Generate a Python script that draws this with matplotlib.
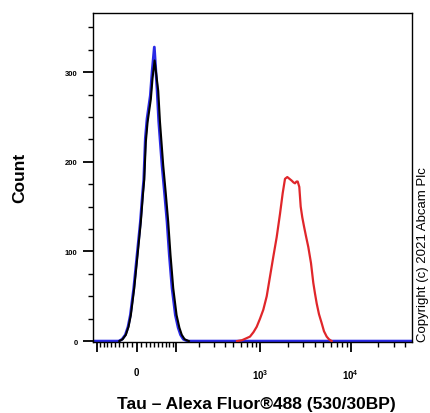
import numpy as np
import matplotlib
matplotlib.use('Agg')
import matplotlib.pyplot as plt
from matplotlib.ticker import FixedLocator, FixedFormatter

plt.rcParams['font.family'] = ['Liberation Sans', 'DejaVu Sans']
plt.rcParams['mathtext.fontset'] = 'custom'
plt.rcParams['mathtext.rm'] = 'Liberation Sans'
plt.rcParams['mathtext.bf'] = 'Liberation Sans:bold'

# Histogram data (fluorescence intensity, count)
blue_x = [-115, -39.9, -32.1, -24.6, -18.6, -13.5, -6.1, 1.1, 8.3, 13.1, 15.7, 19.2, 23.0,
          30.5, 34.5, 39.9, 46.5, 50.7, 59.2, 66.0, 73.0, 79.6, 87.9, 98.6, 108.1,
          116.7, 127.5, 144.8, 47800]
blue_y = [0, 0, 2, 7, 16, 29, 59, 96, 133, 165, 180, 226, 248,
          274, 300, 328, 281, 245, 196, 165, 133, 96, 59, 29, 15,
          7, 2, 0, 0]

black_x = [-38.7, -31.0, -23.5, -17.5, -12.4, -5.0, 2.2, 9.3, 14.2, 16.8, 20.3, 24.2,
           31.7, 35.6, 40.6, 49.5, 53.8, 62.4, 69.4, 76.4, 83.2, 91.7, 102.7, 112.5,
           121.3, 132.6, 150.4]
black_y = [0, 2, 7, 16, 29, 59, 96, 133, 165, 180, 222, 244,
           270, 293, 313, 279, 245, 196, 165, 133, 96, 59, 29, 15,
           7, 2, 0]

red_x = [548, 623, 691, 765, 837, 909, 989, 1076, 1174, 1277, 1389, 1515, 1649,
         1766, 1873, 1986, 2101, 2222, 2327, 2418, 2512, 2590, 2698, 2796, 2912,
         3042, 3201, 3394, 3636, 3856, 4027, 4205, 4459, 4777, 5065, 5426, 5754, 6165]
red_y = [0, 1, 3, 5, 10, 16, 25, 35, 50, 72, 94, 116, 142,
         165, 181, 183, 181, 179, 177, 176, 178, 178, 172, 150, 138,
         128, 117, 105, 87, 65, 53, 42, 30, 20, 11, 5, 2, 0]

x_major = [-100, 0, 100, 1000, 10000]
x_major_labels = ['', '0', '', r'$\mathbf{10^3}$', r'$\mathbf{10^4}$']
x_minor = ([v for v in range(-90, 100, 10) if v != 0]
           + list(range(200, 1000, 100)) + list(range(2000, 10000, 1000))
           + [20000, 30000, 40000])
y_major = [0, 100, 200, 300]
y_minor = list(range(25, 351, 25))

fig = plt.figure(figsize=(4.31, 4.14), dpi=100)
ax = fig.add_axes([93 / 431, 71 / 414, 319 / 431, 329 / 414])

ax.plot(blue_x, blue_y, color='#2a2ae6', lw=2.0, zorder=2)
ax.plot(black_x, black_y, color='black', lw=1.5, zorder=3)
ax.plot(red_x, red_y, color='#e0262a', lw=1.6, zorder=4)

ax.set_xscale('asinh', linear_width=85)
ax.set_xlim(-115, 47800)
ax.set_ylim(-1, 366)

ax.xaxis.set_major_locator(FixedLocator(x_major))
ax.xaxis.set_major_formatter(FixedFormatter(x_major_labels))
ax.xaxis.set_minor_locator(FixedLocator(x_minor))
ax.yaxis.set_major_locator(FixedLocator(y_major))
ax.yaxis.set_minor_locator(FixedLocator(y_minor))

ax.tick_params(axis='both', which='major', length=7, width=1.3, direction='out')
ax.tick_params(axis='both', which='minor', length=3.5, width=1.0, direction='out')
ax.tick_params(axis='x', which='major', pad=11, labelsize=7)
ax.tick_params(axis='y', which='major', pad=4, labelsize=5.5)
for lab in ax.get_xticklabels() + ax.get_yticklabels():
    lab.set_fontweight('bold')

for sp in ax.spines.values():
    sp.set_linewidth(1.0)

fig.text(20 / 431, 1 - 178 / 414, 'Count', rotation=90, fontsize=12.5,
         fontweight='bold', ha='center', va='center')
fig.text(256 / 431, 1 - 405 / 414, 'Tau \u2013 Alexa Fluor\u00ae488 (530/30BP)',
         fontsize=12.5, fontweight='bold', ha='center', va='center')
fig.text(423 / 431, 1 - 255 / 414, 'Copyright (c) 2021 Abcam Plc', rotation=90,
         fontsize=9.5, ha='center', va='center')

fig.savefig('out.png', dpi=100)
